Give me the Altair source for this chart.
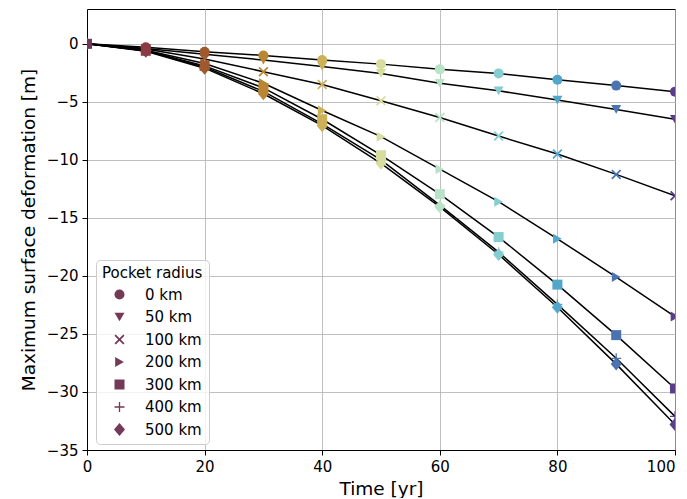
import altair as alt
import pandas as pd

times = [0, 10, 20, 30, 40, 50, 60, 70, 80, 90, 100]
radius_labels = ["0 km", "50 km", "100 km", "200 km", "300 km", "400 km", "500 km"]

def_0 = [0, -0.3, -0.68, -1.0, -1.4, -1.75, -2.2, -2.55, -3.1, -3.6, -4.12]
def_50 = [0, -0.4, -0.9, -1.4, -1.95, -2.55, -3.4, -4.05, -4.85, -5.65, -6.5]
def_100 = [0, -0.45, -1.3, -2.4, -3.5, -4.9, -6.35, -7.95, -9.5, -11.25, -13.1]
def_200 = [0, -0.55, -1.7, -3.4, -5.75, -8.0, -10.8, -13.6, -16.8, -20.1, -23.5]
def_300 = [0, -0.6, -1.9, -3.8, -6.5, -9.6, -12.95, -16.65, -20.75, -25.1, -29.7]
def_400 = [0, -0.6, -2.0, -4.1, -6.9, -10.0, -13.9, -17.95, -22.45, -27.1, -32.1]
def_500 = [0, -0.65, -2.1, -4.3, -7.05, -10.3, -14.05, -18.15, -22.7, -27.6, -32.8]
series = [def_0, def_50, def_100, def_200, def_300, def_400, def_500]

time_colors = ["#733957", "#8a3b44", "#a0592c", "#bb8632", "#cdb158", "#d6dd9e",
               "#b8e3c6", "#85cdd1", "#52a6c9", "#4b72b1", "#5a3e87"]

x_path = ("M-1,-0.75L-0.75,-1L0,-0.25L0.75,-1L1,-0.75L0.25,0L1,0.75L0.75,1L0,0.25"
          "L-0.75,1L-1,0.75L-0.25,0Z")
plus_path = ("M-1,-0.13L-0.13,-0.13L-0.13,-1L0.13,-1L0.13,-0.13L1,-0.13L1,0.13"
             "L0.13,0.13L0.13,1L-0.13,1L-0.13,0.13L-1,0.13Z")
diamond_path = "M0,-1.3L1.1,0L0,1.3L-1.1,0Z"
shapes = ["circle", "triangle-down", x_path, "triangle-right", "square", plus_path, diamond_path]

rows = []
for lab, vals in zip(radius_labels, series):
    for t, v in zip(times, vals):
        rows.append({"time": t, "deformation": v, "radius": lab})
df = pd.DataFrame(rows)

x_enc = alt.X("time:Q", title="Time [yr]",
              scale=alt.Scale(domain=[0, 100], nice=False),
              axis=alt.Axis(values=[0, 20, 40, 60, 80, 100],
                            labelAlign=alt.expr("datum.value == 100 ? 'right' : 'center'")))
y_enc = alt.Y("deformation:Q", title="Maximum surface deformation [m]",
              scale=alt.Scale(domain=[-35, 3], nice=False, zero=False),
              axis=alt.Axis(values=[-35, -30, -25, -20, -15, -10, -5, 0]))

lines = alt.Chart(df).mark_line(color="black", strokeWidth=1.5, clip=True).encode(
    x=x_enc, y=y_enc, detail="radius:N", order="time:Q"
)

points = alt.Chart(df).mark_point(filled=True, opacity=1, size=100, strokeWidth=0, clip=True).encode(
    x=x_enc, y=y_enc,
    color=alt.Color("time:O", scale=alt.Scale(domain=times, range=time_colors), legend=None),
    shape=alt.Shape("radius:N", sort=radius_labels,
                    scale=alt.Scale(domain=radius_labels, range=shapes),
                    legend=alt.Legend(title="Pocket radius", orient="none",
                                      legendX=9, legendY=251)),
)

chart = (lines + points).properties(
    width=588, height=441,
    autosize=alt.AutoSizeParams(type="none"),
    padding={"left": 79, "top": 1, "right": 4, "bottom": 48},
).configure_view(
    stroke="black", strokeWidth=1
).configure_axis(
    labelFont="DejaVu Sans", titleFont="DejaVu Sans",
    labelFontSize=15, titleFontSize=18.5, titleFontWeight="normal",
    labelColor="black", titleColor="black", labelFlush=False, labelOverlap=False,
    domainColor="black", tickColor="black", tickSize=5, labelPadding=4,
    gridColor="#b0b0b0", gridWidth=0.8,
).configure_axisX(titlePadding=5).configure_axisY(titlePadding=8).configure_legend(
    titleFont="DejaVu Sans", labelFont="DejaVu Sans",
    titleFontSize=15, labelFontSize=15, titleFontWeight="normal",
    titleColor="black", labelColor="black",
    symbolFillColor="#733957", symbolStrokeColor="#733957", symbolStrokeWidth=0,
    symbolSize=100, symbolOffset=10, labelOffset=18, rowPadding=6.5,
    padding=6, titlePadding=6,
    strokeColor="#cccccc", fillColor="rgba(255,255,255,0.8)", cornerRadius=4,
)

chart.save("out.html", embed_options={"renderer": "svg", "actions": False})
